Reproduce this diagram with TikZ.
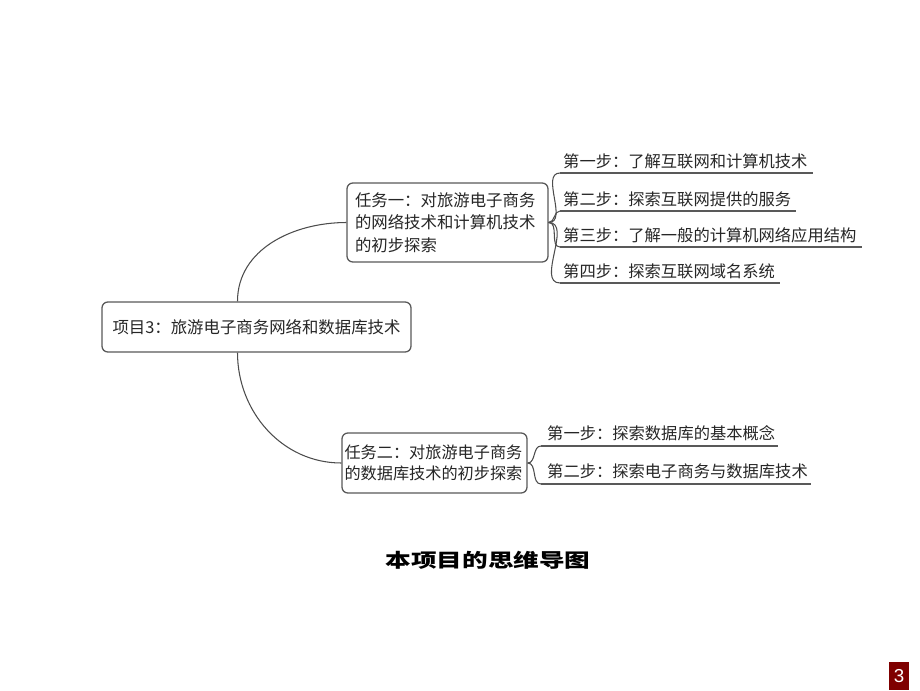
\documentclass[tikz,border=0pt]{standalone}
\usepackage{fontspec}
\usepackage{tikz}
\usetikzlibrary{arrows.meta}
\usetikzlibrary{positioning,calc}
\newfontfamily\cjk{Noto Sans CJK SC}
\newfontfamily\numfont{Liberation Sans}
\definecolor{pagered}{HTML}{7F0000}
\tikzset{
    every node/.style={font=\cjk, text=black!85},
    topicbox/.style={
        draw=black!65,
        rounded corners=5pt,
        line width=1.1pt,
        fill=white
    },
    link/.style={
        draw=black!70,
        line width=0.9pt
    },
    uline/.style={
        draw=black!65,
        line width=1.4pt
    },
    stepnode/.style={
        anchor=base west,
        inner sep=0pt,
        font=\cjk\fontsize{13.9}{16}\selectfont
    }
}

\begin{document}
\begin{tikzpicture}[x=0.03cm,y=0.03cm]
  \useasboundingbox (0,0) rectangle (920,-690);

  % Central topic
  \node[topicbox, minimum width=309*0.03cm, minimum height=50*0.03cm,
        font=\cjk\fontsize{14}{16}\selectfont] (root) at (256.5,-327)
        {项目3：旅游电子商务网络和数据库技术};

  % Tasks
  \node[topicbox, minimum width=201*0.03cm, minimum height=79*0.03cm,
        text width=185*0.03cm, inner xsep=8*0.03cm, align=left,
        font=\cjk\fontsize{14}{19.2}\selectfont] (task1) at (447.5,-222.5)
        {任务一：对旅游电子商务\\的网络技术和计算机技术\\的初步探索};
  \node[topicbox, minimum width=185*0.03cm, minimum height=60*0.03cm,
        text width=180*0.03cm, inner xsep=2.5*0.03cm, align=left,
        font=\cjk\fontsize{13.8}{18}\selectfont] (task2) at (434.5,-463)
        {任务二：对旅游电子商务\\的数据库技术的初步探索};

  % Steps of task one
  \node[stepnode] (s11) at (563,-167) {第一步：了解互联网和计算机技术};
  \node[stepnode] (s12) at (563,-205) {第二步：探索互联网提供的服务};
  \node[stepnode] (s13) at (563,-241) {第三步：了解一般的计算机网络应用结构};
  \node[stepnode] (s14) at (563,-277) {第四步：探索互联网域名系统};

  % Steps of task two
  \node[stepnode] (s21) at (547,-439) {第一步：探索数据库的基本概念};
  \node[stepnode] (s22) at (547,-477) {第二步：探索电子商务与数据库技术};

  % Branches from the central topic
  \draw[link] ([shift={(-19,0)}]root.north) to[out=90,in=180] (task1.west);
  \draw[link] ([shift={(-19,0)}]root.south) to[out=-90,in=180] (task2.west);

  % Branches to the steps, with underlines
  \foreach \s in {s11,s12,s13,s14} {
    \draw[link] (task1.east) to[out=0,in=180] ([shift={(-3,-6)}]\s.base west);
    \draw[uline] ([shift={(-3,-6)}]\s.base west) -- ([shift={(5,-6)}]\s.base east);
  }
  \foreach \s in {s21,s22} {
    \draw[link] (task2.east) to[out=0,in=180] ([shift={(-6,-7)}]\s.base west);
    \draw[uline] ([shift={(-6,-7)}]\s.base west) -- ([shift={(3,-7)}]\s.base east);
  }

  % Caption
  \node[font=\cjk\bfseries\fontsize{16.2}{18}\selectfont, text=black] (caption) at (488,-560)
        {\scalebox{1.35}[1]{本项目的思维导图}};

  % Page number
  \node[fill=pagered, minimum width=20*0.03cm, minimum height=28*0.03cm, inner sep=0pt,
        font=\numfont\fontsize{16}{16}\selectfont, text=white] (pagenum) at (899,-676) {3};
\end{tikzpicture}
\end{document}
